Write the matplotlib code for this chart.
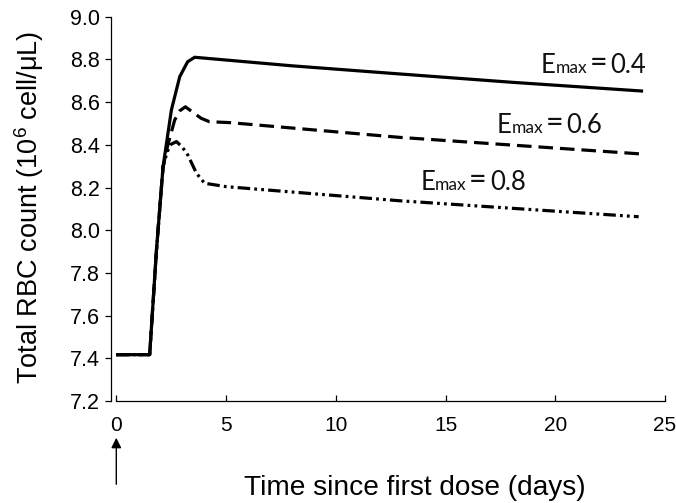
import matplotlib
matplotlib.use("Agg")
import matplotlib.pyplot as plt

# ---- data ----
t_04 = [0.0, 1.52, 1.83, 2.13, 2.51, 2.89, 3.25, 3.57, 8.0, 12.89, 18.0, 23.93]
v_04 = [7.417, 7.417, 7.907, 8.297, 8.563, 8.719, 8.789, 8.81, 8.77, 8.732, 8.693, 8.652]

t_06 = [0.0, 1.52, 1.83, 2.13, 2.35, 2.66, 2.9, 3.15, 3.45, 3.87, 4.25, 5.16, 12.89, 23.93]
v_06 = [7.417, 7.417, 7.907, 8.297, 8.40, 8.516, 8.56, 8.578, 8.555, 8.524, 8.508, 8.504, 8.435, 8.357]

t_08 = [0.0, 1.52, 1.83, 2.13, 2.3, 2.45, 2.74, 3.0, 3.26, 3.65, 4.02, 5.0, 12.89, 23.8]
v_08 = [7.417, 7.417, 7.907, 8.297, 8.36, 8.40, 8.415, 8.39, 8.352, 8.267, 8.22, 8.204, 8.138, 8.063]

x_ticks = [0, 5, 10, 15, 20, 25]
y_ticks = [7.2, 7.4, 7.6, 7.8, 8.0, 8.2, 8.4, 8.6, 8.8, 9.0]
labels = ["0.4", "0.6", "0.8"]
label_pos = [(19.35, 8.735), (17.35, 8.454), (13.85, 8.186)]

plt.rcParams['font.family'] = ['Liberation Sans', 'DejaVu Sans']
plt.rcParams['mathtext.fontset'] = 'custom'
plt.rcParams['mathtext.rm'] = 'Liberation Sans'
plt.rcParams['mathtext.it'] = 'Liberation Sans'
plt.rcParams['lines.scale_dashes'] = False

W, H = 676, 503
fig = plt.figure(figsize=(W / 100, H / 100), dpi=100)
x0, x1 = 116.3, 665.0
y0, y1 = 401.0, 16.7
ax = fig.add_axes([x0 / W, 1 - y0 / H, (x1 - x0) / W, (y0 - y1) / H])

lw = 2.3
ax.plot(t_04, v_04, color='black', lw=lw, solid_joinstyle='round')
ax.plot(t_06, v_06, color='black', lw=lw, linestyle=(0, (10.5, 5.0)))
ax.plot(t_08, v_08, color='black', lw=lw, linestyle=(0, (9.0, 3.0, 2.0, 3.0, 2.0, 3.0)))

ax.set_xlim(0, 25)
ax.set_ylim(7.2, 9.0)
ax.set_xticks(x_ticks)
ax.set_yticks(y_ticks)
ax.set_xticklabels([str(v) for v in x_ticks])
ax.set_yticklabels([f"{v:.1f}" for v in y_ticks])

for s in ['top', 'right']:
    ax.spines[s].set_visible(False)
ax.spines['left'].set_position(('outward', 4))
ax.spines['left'].set_linewidth(0.9)
ax.spines['bottom'].set_linewidth(0.9)
ax.tick_params(axis='y', direction='out', length=4, width=0.9, labelsize=15.5, pad=4)
ax.tick_params(axis='x', direction='in', length=4, width=0.9, labelsize=15, pad=11)

# Emax labels
px2pt = 0.72
for lab, (lx, ly) in zip(labels, label_pos):
    kw = dict(xy=(lx, ly), xycoords='data', textcoords='offset points',
              ha='left', va='baseline', family=['Lato', 'DejaVu Sans'], color='#111111')
    ax.annotate("E", xytext=(0, 0), fontsize=18.5, **kw)
    ax.annotate("max", xytext=(14.5 * px2pt, 0), fontsize=12.5, **kw)
    ax.annotate("=", xytext=(48.5 * px2pt, 1), fontsize=22, **kw)
    ax.annotate(lab, xytext=(69.5 * px2pt, 0), fontsize=18.5, **kw)

# axis labels
fig.text(29 / W, 1 - 207 / H, "Total RBC count (10$^{6}$ cell/\u03bcL)", rotation=90,
         ha='center', va='center', fontsize=19.5)
fig.text(415 / W, 1 - 488 / H, "Time since first dose (days)", ha='center', va='center',
         fontsize=20.2)

# dosing arrow
ax.annotate('', xy=(0, H - 435), xycoords=('data', 'figure pixels'),
            xytext=(0, H - 487), textcoords=('data', 'figure pixels'),
            arrowprops=dict(arrowstyle='-|>', color='black', lw=1.0, mutation_scale=15),
            annotation_clip=False)

fig.savefig("out.png", dpi=100)
